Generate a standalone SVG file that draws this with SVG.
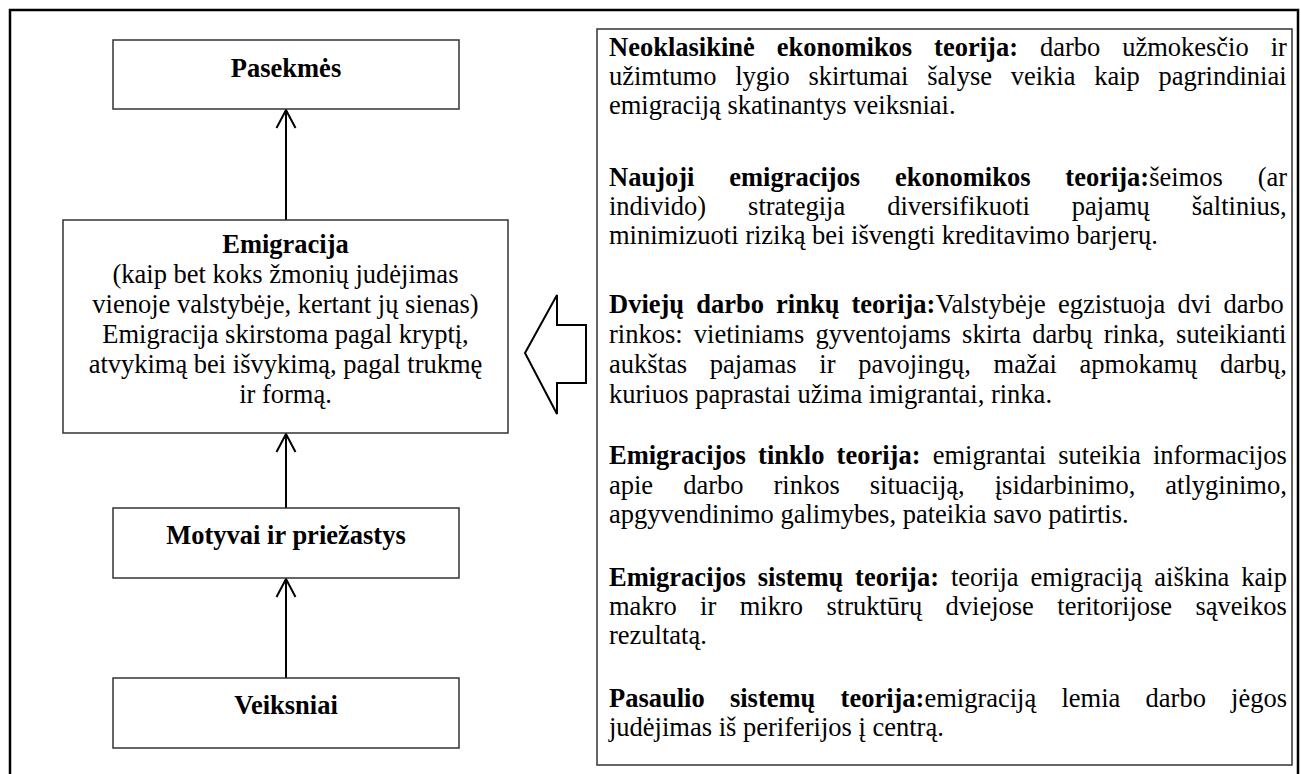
<svg xmlns="http://www.w3.org/2000/svg" width="1301" height="774" viewBox="0 0 1301 774">
<defs>
<style>
text{font-family:"Liberation Serif","Times New Roman",serif;font-size:26.5px;fill:#000}
.b{font-weight:bold}
.c{text-anchor:middle}
.box{fill:#fff;stroke:#333;stroke-width:1.5}
.con{stroke:#000;stroke-width:2;fill:none}
</style>
<marker id="open" viewBox="0 0 20 22" refX="19" refY="11" markerWidth="20" markerHeight="22" markerUnits="userSpaceOnUse" orient="auto">
<path d="M1,1.5 L19,11 L1,20.5" fill="none" stroke="#000" stroke-width="2"/>
</marker>
</defs>
<rect width="1301" height="774" fill="#fff"/>
<rect id="frame" x="10" y="10" width="1288" height="800" fill="none" stroke="#000" stroke-width="2.5"/>

<g id="connectors">
<line class="con" x1="286" y1="220" x2="286" y2="110" marker-end="url(#open)"/>
<line class="con" x1="286" y1="508" x2="286" y2="434" marker-end="url(#open)"/>
<line class="con" x1="286" y1="678" x2="286" y2="579" marker-end="url(#open)"/>
<polygon class="con" points="525,353 557,295 557,325 586,325 586,383 557,383 557,414"/>
</g>

<g id="pasekmes">
<rect class="box" x="113" y="40" width="346" height="69"/>
<text class="b c" x="286" y="77">Pasekmės</text>
</g>

<g id="emigracija">
<rect class="box" x="63" y="220" width="445" height="213"/>
<text class="b c" x="285.5" y="253">Emigracija</text>
<text class="c" x="285.5" y="283">(kaip bet koks žmonių judėjimas</text>
<text class="c" x="285.5" y="313">vienoje valstybėje, kertant jų sienas)</text>
<text class="c" x="285.5" y="343">Emigracija skirstoma pagal kryptį,</text>
<text class="c" x="285.5" y="373">atvykimą bei išvykimą, pagal trukmę</text>
<text class="c" x="285.5" y="403">ir formą.</text>
</g>

<g id="motyvai">
<rect class="box" x="113" y="508" width="346" height="70"/>
<text class="b c" x="286" y="544">Motyvai ir priežastys</text>
</g>

<g id="veiksniai">
<rect class="box" x="113" y="678" width="346" height="70"/>
<text class="b c" x="286" y="714">Veiksniai</text>
</g>

<g id="teorijos">
<rect class="box" x="597" y="29" width="695" height="736"/>
<text x="609" y="56" style="word-spacing:15.3px"><tspan class="b">Neoklasikinė ekonomikos teorija:</tspan> darbo užmokesčio ir</text>
<text x="609" y="85" style="word-spacing:12.1px">užimtumo lygio skirtumai šalyse veikia kaip pagrindiniai</text>
<text x="609" y="114">emigraciją skatinantys veiksniai.</text>

<text x="609" y="186" style="word-spacing:28.2px"><tspan class="b">Naujoji emigracijos ekonomikos teorija:</tspan>šeimos (ar</text>
<text x="609" y="215" style="word-spacing:35.3px">individo) strategija diversifikuoti pajamų šaltinius,</text>
<text x="609" y="244">minimizuoti riziką bei išvengti kreditavimo barjerų.</text>

<text x="609" y="313" style="word-spacing:5.5px"><tspan class="b">Dviejų darbo rinkų teorija:</tspan>Valstybėje egzistuoja dvi darbo</text>
<text x="609" y="343" style="word-spacing:4.6px">rinkos: vietiniams gyventojams skirta darbų rinka, suteikianti</text>
<text x="609" y="373" style="word-spacing:16.1px">aukštas pajamas ir pavojingų, mažai apmokamų darbų,</text>
<text x="609" y="403">kuriuos paprastai užima imigrantai, rinka.</text>

<text x="609" y="464" style="word-spacing:5.6px"><tspan class="b">Emigracijos tinklo teorija:</tspan> emigrantai suteikia informacijos</text>
<text x="609" y="493.5" style="word-spacing:23.4px">apie darbo rinkos situaciją, įsidarbinimo, atlyginimo,</text>
<text x="609" y="523">apgyvendinimo galimybes, pateikia savo patirtis.</text>

<text x="609" y="586" style="word-spacing:5.3px"><tspan class="b">Emigracijos sistemų teorija:</tspan> teorija emigraciją aiškina kaip</text>
<text x="609" y="615" style="word-spacing:16.8px">makro ir mikro struktūrų dviejose teritorijose sąveikos</text>
<text x="609" y="644">rezultatą.</text>

<text x="609" y="707" style="word-spacing:18.6px"><tspan class="b">Pasaulio sistemų teorija:</tspan>emigraciją lemia darbo jėgos</text>
<text x="609" y="736">judėjimas iš periferijos į centrą.</text>
</g>
</svg>
